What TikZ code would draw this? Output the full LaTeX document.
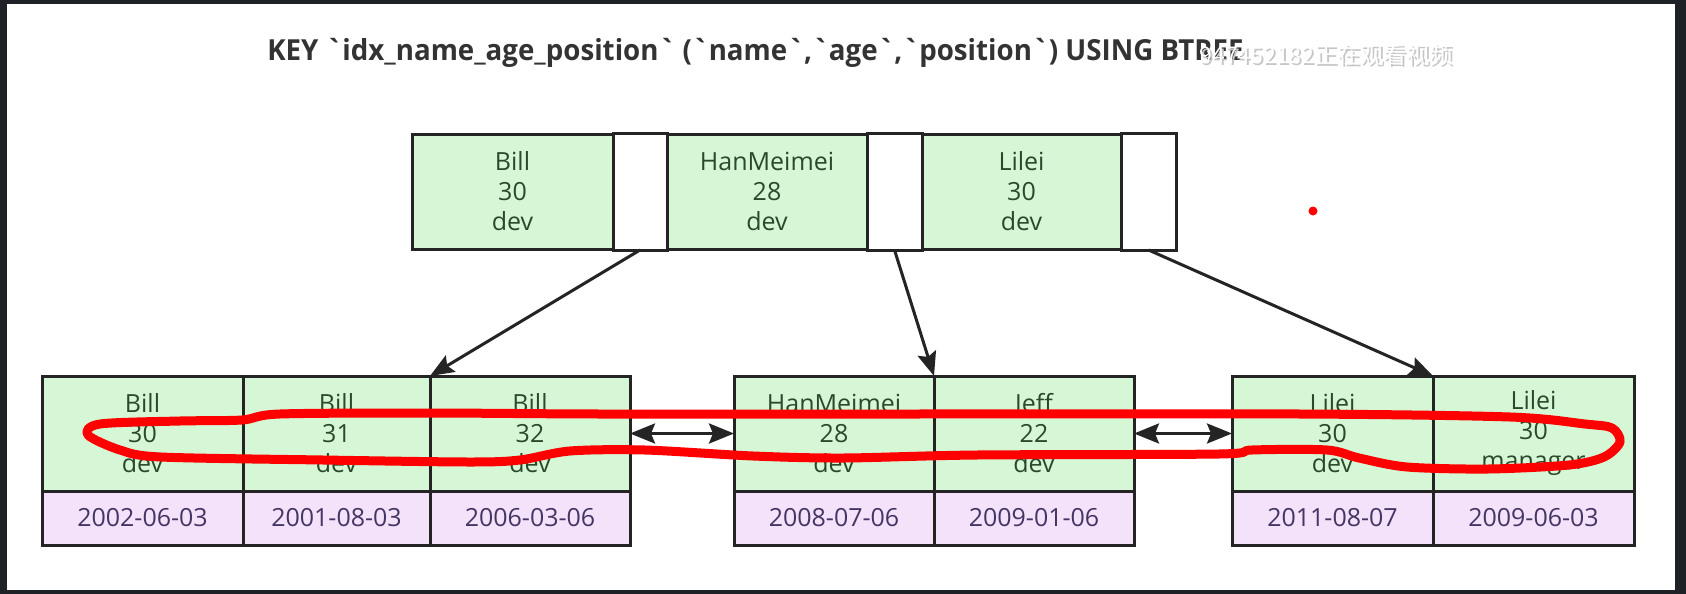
\documentclass[tikz,border=0pt]{standalone}
\usepackage{fontspec}
\setmainfont{Open Sans}
\newfontfamily\cjk{Noto Sans CJK SC}
\usetikzlibrary{arrows.meta}
\definecolor{keyfill}{RGB}{214,247,214}
\definecolor{datefill}{RGB}{244,226,250}
\definecolor{keytext}{RGB}{44,72,44}
\definecolor{datetext}{RGB}{68,54,100}
\definecolor{edge}{RGB}{36,36,36}
\definecolor{framebg}{RGB}{30,33,38}
\newcommand{\bq}{\textasciigrave}
\tikzset{
  cell/.style={draw=edge, line width=3pt, inner sep=0pt, outer sep=0pt, align=center},
  key/.style={cell, fill=keyfill, text=keytext, minimum width=#1, minimum height=115pt,
    font=\fontsize{25}{30}\selectfont},
  ptr/.style={cell, fill=white, minimum width=#1, minimum height=117pt},
  date/.style={cell, fill=datefill, text=datetext, minimum width=#1, minimum height=54pt,
    font=\fontsize{25}{30}\selectfont},
  link/.style={draw=edge, line width=3pt, -{Stealth[length=24pt,width=19pt,inset=4pt]}},
  both/.style={draw=edge, line width=3pt, {Stealth[length=25pt,width=20pt,inset=4pt]}-{Stealth[length=25pt,width=20pt,inset=4pt]}}
}

\begin{document}
\begin{tikzpicture}[x=1pt, y=-1pt]
% frame
\fill[framebg] (0,0) rectangle (1686,594);
\fill[white] (7,4) rectangle (1675,590);
\useasboundingbox (0,0) rectangle (1686,594);

\node[anchor=base, font=\bfseries\fontsize{29}{34}\selectfont, text=black!80] (title) at (755.5,60)
  {\scalebox{0.955}[1]{KEY \bq idx\_name\_age\_position\bq{} (\bq name\bq,\bq age\bq,\bq position\bq) USING BTREE}};

% root page
\begin{scope}[every node/.append style={minimum height=117pt}]
  \node[key=201pt] (r1) at (512.5,191.5) {Bill\\30\\dev};
  \node[ptr=54pt] (p1) at (640,191.5) {};
  \node[key=200pt] (r2) at (767,191.5) {HanMeimei\\28\\dev};
  \node[ptr=55pt] (p2) at (894.5,191.5) {};
  \node[key=199pt] (r3) at (1021.5,191.5) {Lilei\\30\\dev};
  \node[ptr=55pt] (p3) at (1148.5,191.5) {};
\end{scope}

% leaf pages
\node[key=201pt] (k1) at (142.5,433.5) {Bill\\30\\dev};
\node[key=187pt] (k2) at (336.5,433.5) {Bill\\31\\dev};
\node[key=200pt] (k3) at (530,433.5) {Bill\\32\\dev};
\node[key=200pt] (k4) at (834,433.5) {HanMeimei\\28\\dev};
\node[key=200pt] (k5) at (1034,433.5) {Jeff\\22\\dev};
\node[key=201pt] (k6) at (1332.5,433.5) {Lilei\\30\\dev};
\node[key=201pt] (k7) at (1533.5,433.5) {Lilei\\30\\manager};

\node[date=201pt] (d1) at (142.5,518) {2002-06-03};
\node[date=187pt] (d2) at (336.5,518) {2001-08-03};
\node[date=200pt] (d3) at (530,518) {2006-03-06};
\node[date=200pt] (d4) at (834,518) {2008-07-06};
\node[date=200pt] (d5) at (1034,518) {2009-01-06};
\node[date=201pt] (d6) at (1332.5,518) {2011-08-07};
\node[date=201pt] (d7) at (1533.5,518) {2009-06-03};

\draw[link] (p1.south) -- (k2.north east);
\draw[link] (p2.south) -- (k5.north west);
\draw[link] (p3.south) -- (k7.north west);
\draw[both] (k3.east) -- (k4.west);
\draw[both] (k5.east) -- (k6.west);

% hand drawn mark
\draw[red, line width=9pt, line join=round] plot[smooth cycle, tension=0.5] coordinates {
  (88,435) (100,424) (180,421) (242,420) (280,414) (430,413) (600,414) (900,414)
  (1300,414) (1510,417) (1585,424) (1612,428) (1620,442) (1604,457) (1569,465)
  (1488,469) (1407,467) (1359,458) (1327,450) (1252,450) (1219,454) (977,455)
  (843,458) (753,456) (645,450) (570,451) (520,460) (470,462) (323,460) (161,457) (120,450)};
\fill[red] (1313,211) circle (4.5);

% overlay
\node[anchor=west, font=\cjk\fontsize{23}{26}\selectfont, text=gray!45] (ovs) at (1198,57) {947452182正在观看视频};
\node[anchor=west, font=\cjk\fontsize{23}{26}\selectfont, text=white] (ov) at (1196,55) {947452182正在观看视频};
\end{tikzpicture}
\end{document}
